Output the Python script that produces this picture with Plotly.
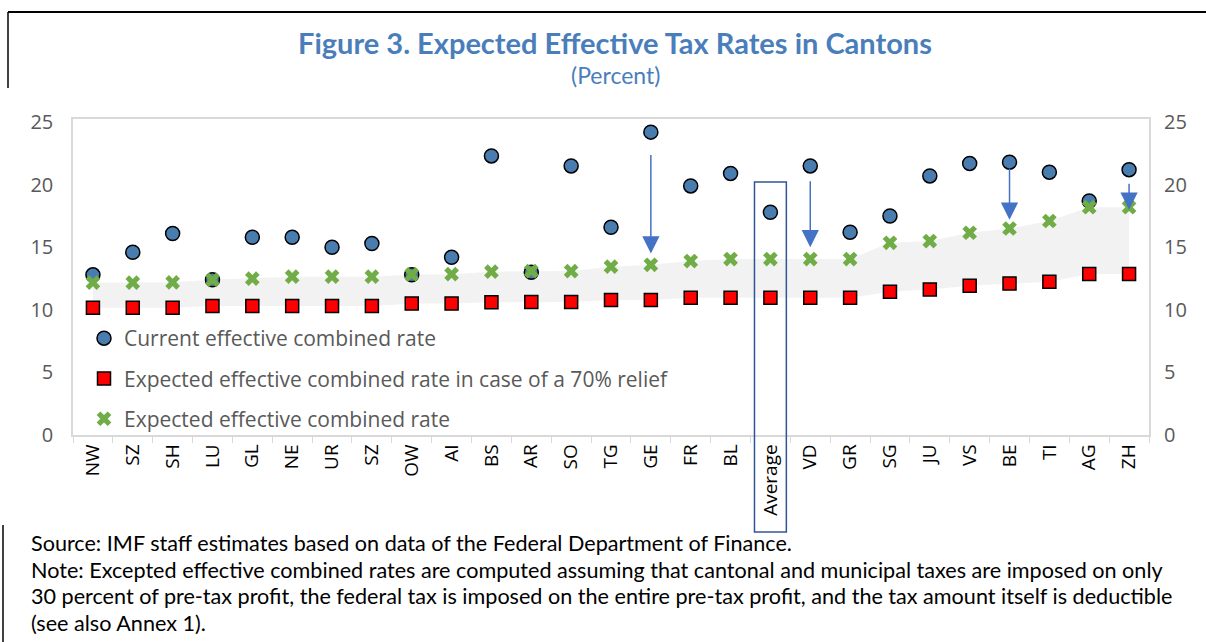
import plotly.graph_objects as go

cantons = ["NW", "SZ", "SH", "LU", "GL", "NE", "UR", "SZ\u200b", "OW", "AI", "BS", "AR", "SO", "TG",
           "GE", "FR", "BL", "Average", "VD", "GR", "SG", "JU", "VS", "BE", "TI", "AG", "ZH"]
current_rate = [12.8, 14.6, 16.1, 12.4, 15.8, 15.8, 15.0, 15.3, 12.8, 14.2, 22.3, 13.0, 21.5, 16.6,
                24.2, 19.9, 20.9, 17.8, 21.5, 16.2, 17.5, 20.7, 21.7, 21.8, 21.0, 18.7, 21.2]
relief70_rate = [10.17, 10.17, 10.17, 10.3, 10.3, 10.3, 10.3, 10.3, 10.5, 10.5, 10.6, 10.63, 10.63, 10.78,
                 10.78, 10.97, 10.97, 10.97, 10.97, 10.97, 11.45, 11.63, 11.92, 12.1, 12.25, 12.86, 12.86]
expected_rate = [12.17, 12.17, 12.2, 12.4, 12.5, 12.65, 12.65, 12.65, 12.83, 12.85, 13.05, 13.1, 13.1, 13.45,
                 13.6, 13.9, 14.06, 14.06, 14.06, 14.06, 15.36, 15.5, 16.16, 16.5, 17.1, 18.2, 18.2]
# arrows: (canton index, tail value, head value)
arrows = [(14, 22.5, 14.5), (18, 20.4, 15.0), (23, 21.4, 17.2), (26, 20.2, 18.0)]
y_ticks = [0, 5, 10, 15, 20, 25]

# pixel helpers for layout (plot area 73..1149 x, 119..435 y)
L, R, T, B = 73, 1149, 119, 435
def px(x):
    return (x - L) / (R - L)
def py(y):
    return (B - y) / (B - T)

fig = go.Figure()

# grey band between relief rate and expected rate
fig.add_trace(go.Scatter(x=cantons, y=relief70_rate, mode="lines", line=dict(width=0, color="#F2F2F2"),
                         showlegend=False, hoverinfo="skip"))
fig.add_trace(go.Scatter(x=cantons, y=expected_rate, mode="lines", line=dict(width=0, color="#F2F2F2"),
                         fill="tonexty", fillcolor="#F2F2F2", showlegend=False, hoverinfo="skip"))

fig.add_trace(go.Scatter(x=cantons, y=current_rate, mode="markers", name="Current effective combined rate",
                         legendgroup="a",
                         marker=dict(symbol="circle", size=14, color="#4A7DAF", line=dict(color="black", width=1.5))))
fig.add_trace(go.Scatter(x=cantons, y=relief70_rate, mode="markers",
                         name="Expected effective combined rate in case of a 70% relief", legendgroup="b",
                         marker=dict(symbol="square", size=13, color="#FF0000", line=dict(color="black", width=1.5))))
fig.add_trace(go.Scatter(x=cantons, y=expected_rate, mode="markers", name="Expected effective combined rate",
                         legendgroup="c",
                         marker=dict(symbol="x", size=13, color="#70AD47", line=dict(width=0))))
# invisible trace for right axis
fig.add_trace(go.Scatter(x=cantons, y=expected_rate, yaxis="y2", mode="markers", marker=dict(opacity=0),
                         showlegend=False, hoverinfo="skip"))

annotations = []
for idx, tail, head in arrows:
    annotations.append(dict(x=cantons[idx], y=head, ax=cantons[idx], ay=tail, xref="x", yref="y",
                            axref="x", ayref="y", showarrow=True, arrowhead=2, arrowsize=2.3,
                            arrowwidth=1.5, arrowcolor="#4472C4", standoff=0, text=""))

title_font = "Lato"
annotations.append(dict(text="<b>Figure 3. Expected Effective Tax Rates in Cantons</b>", xref="paper", yref="paper",
                        x=px(615), y=py(42), xanchor="center", yanchor="middle", showarrow=False,
                        font=dict(family=title_font, size=29, color="#4A7EBB")))
annotations.append(dict(text="(Percent)", xref="paper", yref="paper",
                        x=px(615), y=py(75), xanchor="center", yanchor="middle", showarrow=False,
                        font=dict(family=title_font, size=23, color="#4A7EBB")))
notes = [
    "Source: IMF staff estimates based on data of the Federal Department of Finance.",
    "Note: Excepted effective combined rates are computed assuming that cantonal and municipal taxes are imposed on only",
    "30 percent of pre-tax profit, the federal tax is imposed on the entire pre-tax profit, and the tax amount itself is deductible",
    "(see also Annex 1).",
]
for i, line in enumerate(notes):
    annotations.append(dict(text=line, xref="paper", yref="paper", x=px(29), y=py(543 + 26.7 * i),
                            xanchor="left", yanchor="middle", showarrow=False,
                            font=dict(family=title_font, size=21.6, color="#000000")))

shapes = [
    dict(type="rect", xref="x", yref="paper", x0=16.6, x1=17.4, y0=py(532), y1=py(182), line=dict(color="#2F5597", width=1.5)),
    dict(type="line", xref="paper", yref="paper", x0=px(8), x1=px(1206), y0=py(12), y1=py(12), line=dict(color="black", width=2)),
    dict(type="line", xref="paper", yref="paper", x0=px(8), x1=px(8), y0=py(12), y1=py(88), line=dict(color="black", width=1.5)),
    dict(type="line", xref="paper", yref="paper", x0=px(3), x1=px(3), y0=py(525), y1=py(642), line=dict(color="black", width=1.5)),
]

axis_font = dict(family="Open Sans", size=20, color="#595959")
fig.update_layout(
    width=1206, height=642,
    margin=dict(l=L, r=1206 - R, t=T, b=642 - B),
    paper_bgcolor="white", plot_bgcolor="white",
    showlegend=True,
    legend=dict(x=px(84), y=py(318), xanchor="left", yanchor="top", bgcolor="rgba(0,0,0,0)",
                font=dict(family="Open Sans", size=21, color="#595959"), tracegroupgap=10,
                itemwidth=30),
    xaxis=dict(type="category", tickangle=-90, tickson="boundaries", ticks="outside", ticklen=6,
               tickcolor="#D9D9D9", showline=True, linecolor="#D9D9D9", linewidth=1.5, mirror=True,
               showgrid=False, tickfont=dict(family="Open Sans", size=19, color="#000000"),
               range=[-0.5, 26.5]),
    yaxis=dict(range=[0, 25.25], tickvals=y_ticks, showgrid=False, zeroline=False, showline=True,
               linecolor="#D9D9D9", linewidth=1.5, mirror=True, tickfont=axis_font, ticks="",
               ticklabelstandoff=14),
    yaxis2=dict(range=[0, 25.25], tickvals=y_ticks, overlaying="y", side="right", showgrid=False,
                zeroline=False, showline=False, tickfont=axis_font, ticks="", ticklabelstandoff=14),
    annotations=annotations,
    shapes=shapes,
)

fig.write_html("out.html", config={"displayModeBar": False},
               post_script="document.body.style.margin='0';")
